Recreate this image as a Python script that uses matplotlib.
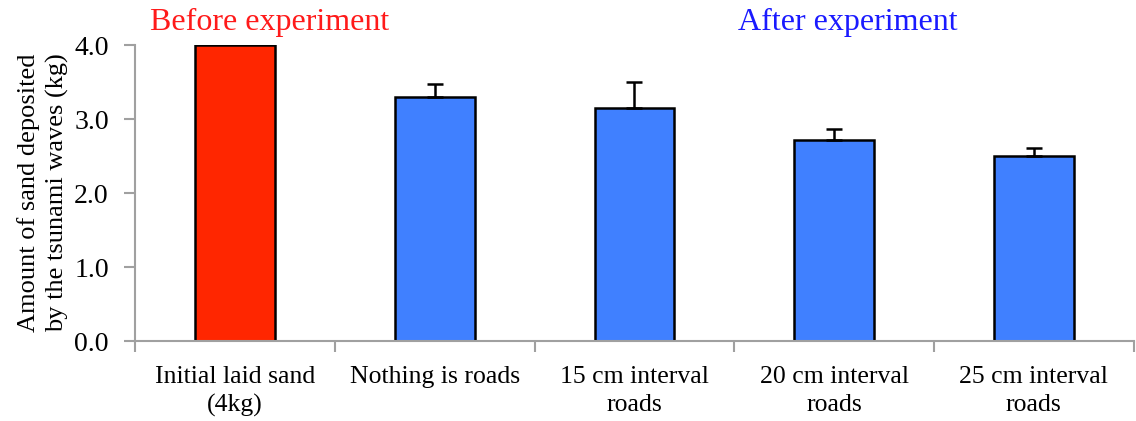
import numpy as np
import matplotlib
matplotlib.use("Agg")
import matplotlib.pyplot as plt

categories = ["Initial laid sand\n(4kg)", "Nothing is roads", "15 cm interval\nroads",
              "20 cm interval\nroads", "25 cm interval\nroads"]
values = [4.0, 3.30, 3.15, 2.72, 2.50]
errors = [0.0, 0.17, 0.35, 0.14, 0.11]
colors = ["#ff2600", "#4080ff", "#4080ff", "#4080ff", "#4080ff"]

plt.rcParams["font.family"] = ["Liberation Serif", "DejaVu Serif"]

fig = plt.figure(figsize=(11.36, 4.21), dpi=100)
ax = fig.add_axes([0.119, 0.19, 0.879, 0.703])

x = np.arange(len(categories))
ax.bar(x, values, width=0.4, color=colors, edgecolor="black", linewidth=1.8, zorder=2)
ax.errorbar(x[1:], values[1:], yerr=[np.zeros(4), errors[1:]], fmt="none",
            ecolor="black", elinewidth=1.8, capsize=6, capthick=1.8, zorder=3)

ax.set_xlim(-0.5, len(categories) - 0.5)
ax.set_ylim(0, 4.0)
ax.set_yticks([0, 1, 2, 3, 4])
ax.set_yticklabels(["0.0", "1.0", "2.0", "3.0", "4.0"], fontsize=20)

ax.set_xticks(x)
ax.set_xticklabels(categories, fontsize=18.5, linespacing=1.35)
ax.tick_params(axis="x", length=0, pad=18)
ax.set_xticks(np.arange(-0.5, len(categories), 1), minor=True)
ax.tick_params(axis="x", which="minor", length=8, width=1.5, color="#a0a0a0", direction="out")
ax.tick_params(axis="y", length=8, width=1.5, color="#a0a0a0", direction="out", pad=11)

for s in ["top", "right"]:
    ax.spines[s].set_visible(False)
for s in ["left", "bottom"]:
    ax.spines[s].set_color("#a0a0a0")
    ax.spines[s].set_linewidth(1.5)

ax.set_ylabel("Amount of sand deposited\nby the tsunami waves (kg)", fontsize=19,
              labelpad=4, linespacing=1.3)

fig.text(270 / 1136, 1 - 22 / 421, "Before experiment", color="#ff1a1a", fontsize=23,
         ha="center", va="center")
fig.text(848 / 1136, 1 - 22 / 421, "After experiment", color="#1a1aff", fontsize=23,
         ha="center", va="center")

fig.savefig("out.png", dpi=100)
